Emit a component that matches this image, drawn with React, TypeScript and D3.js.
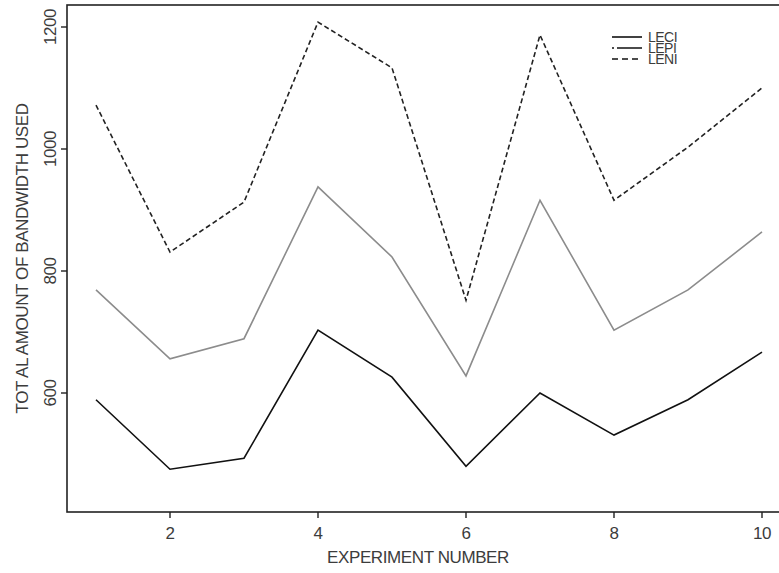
import * as d3 from 'd3';
import React from 'react';

// experiment index on the x axis
const experiments = [1, 2, 3, 4, 5, 6, 7, 8, 9, 10];

// total bandwidth used per scheme
const leci = [589, 475, 493, 703, 626, 480, 600, 531, 589, 667];
const lepi = [769, 656, 689, 938, 823, 628, 916, 703, 769, 864];
const leni = [1072, 831, 913, 1208, 1133, 752, 1187, 916, 1003, 1100];

const xTicks = [2, 4, 6, 8, 10];
const yTicks = [600, 800, 1000, 1200];

const seriesNames = ['LECI', 'LEPI', 'LENI'];

const App = () => {
  const width = 779;
  const height = 573;
  const left = 67;
  const top = 5;
  const bottom = 512;
  const right = 792; // box runs off the right edge in the original

  //x: 1 sits a bit inside the box, like R's 4% padding
  const x = d3.scaleLinear().domain([1, 10]).range([96, 762]);
  const y = d3.scaleLinear().domain([600, 1200]).range([393, 27]);

  const line = d3
    .line<number>()
    .x((_, i) => x(experiments[i]))
    .y((d) => y(d));

  const series = [
    { name: seriesNames[0], values: leci, stroke: '#111', dash: null, legendDash: null },
    { name: seriesNames[1], values: lepi, stroke: '#8c8c8c', dash: null, legendDash: '2,3,26' },
    { name: seriesNames[2], values: leni, stroke: '#222', dash: '5,3', legendDash: '6,4' },
  ];

  const font = 'Liberation Sans, Arial, sans-serif';
  const textColor = '#3c3c3c';

  return (
    <svg
      width={width}
      height={height}
      style={{ position: 'absolute', left: 0, top: 0, background: '#fff' }}
    >
      {/* plot box */}
      <rect
        x={left}
        y={top}
        width={right - left}
        height={bottom - top}
        fill="none"
        stroke="#222"
        strokeWidth={1.6}
      />

      {/* x axis ticks */}
      <g fontFamily={font} fontSize={17} fill={textColor} letterSpacing={-0.4}>
        {xTicks.map((t) => (
          <g key={t}>
            <line x1={x(t)} x2={x(t)} y1={bottom} y2={bottom + 6} stroke="#222" strokeWidth={1.4} />
            <text x={x(t)} y={539} textAnchor="middle">
              {t}
            </text>
          </g>
        ))}
        <text x={418} y={563} textAnchor="middle">
          EXPERIMENT NUMBER
        </text>
      </g>

      {/* y axis ticks */}
      <g fontFamily={font} fontSize={17} fill={textColor} letterSpacing={-0.4}>
        {yTicks.map((t) => (
          <g key={t}>
            <line x1={left - 6} x2={left} y1={y(t)} y2={y(t)} stroke="#222" strokeWidth={1.4} />
            <text transform={`translate(56,${y(t)}) rotate(-90)`} textAnchor="middle">
              {t}
            </text>
          </g>
        ))}
        <text transform={`translate(28,${(top + bottom) / 2}) rotate(-90)`} textAnchor="middle">
          TOT AL AMOUNT OF BANDWIDTH USED
        </text>
      </g>

      {/* series */}
      {series.map((s) => (
        <path
          key={s.name}
          d={line(s.values) || ''}
          fill="none"
          stroke={s.stroke}
          strokeWidth={1.6}
          strokeDasharray={s.dash || undefined}
        />
      ))}

      {/* legend */}
      <g fontFamily={font} fontSize={14} fill={textColor} letterSpacing={-0.5}>
        {series.map((s, i) => (
          <g key={s.name} transform={`translate(612,${37 + i * 11})`}>
            <line
              x1={0}
              x2={30}
              y1={0}
              y2={0}
              stroke="#111"
              strokeWidth={1.6}
              strokeDasharray={s.legendDash || undefined}
            />
            <text x={36} y={5}>
              {s.name}
            </text>
          </g>
        ))}
      </g>
    </svg>
  );
};

export default App;
